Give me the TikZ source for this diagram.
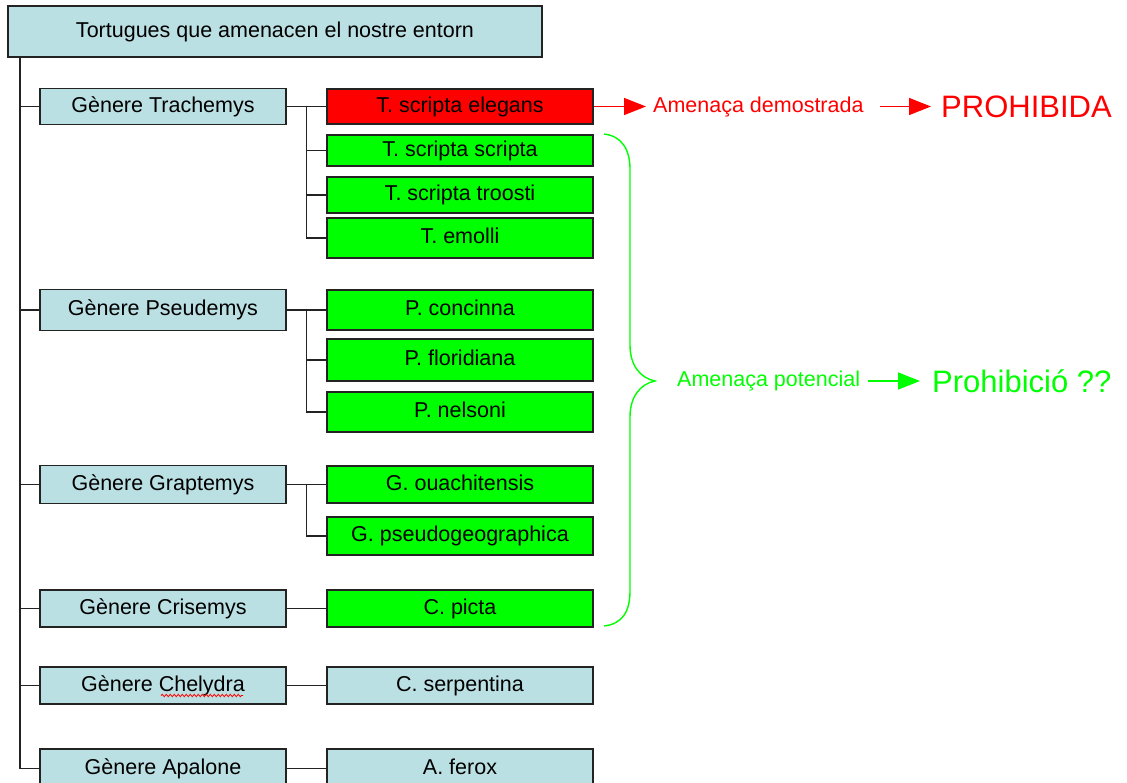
\documentclass[tikz,border=0pt]{standalone}
\usepackage{fontspec}
\setmainfont{Liberation Sans}
\usetikzlibrary{arrows.meta,decorations.pathmorphing,calc}
\definecolor{boxblue}{RGB}{187,224,227}
\definecolor{pgreen}{RGB}{0,255,0}
\definecolor{pred}{RGB}{255,0,0}
\definecolor{lineg}{RGB}{35,35,35}
\tikzset{
  base/.style={draw=lineg, line width=1.7pt, rectangle, inner sep=0pt, align=center,
    text height=15pt, text depth=4pt, font=\fontsize{21.5}{24}\selectfont},
  genus/.style={base, fill=boxblue, minimum width=246pt},
  sp/.style={base, fill=pgreen, minimum width=266pt},
  spred/.style={base, fill=pred, minimum width=266pt},
  spblue/.style={base, fill=boxblue, minimum width=266pt},
  conn/.style={draw=lineg, line width=1.7pt},
  lbl/.style={inner sep=0pt, anchor=west, font=\fontsize{21.5}{24}\selectfont},
  big/.style={inner sep=0pt, anchor=west, font=\fontsize{31}{36}\selectfont},
  redarrow/.style={draw=pred, line width=1.5pt, -{Triangle[length=22pt,width=17pt]}},
  greenarrow/.style={draw=pgreen, line width=1.5pt, -{Triangle[length=22pt,width=17pt]}},
}
\begin{document}
\begin{tikzpicture}[x=1pt,y=-1pt]
\useasboundingbox (0,0) rectangle (1127,782);
\clip (0,0) rectangle (1127,782);
\fill[white] (0,0) rectangle (1127,782);

% title
\node[base, fill=boxblue, minimum width=534pt, minimum height=51pt] (title) at (275,31.5) {Tortugues que amenacen el nostre entorn};

% genera
\node[genus, minimum height=36pt] (gT) at (163,106.5) {Gènere Trachemys};
\node[genus, minimum height=41pt] (gP) at (163,310) {Gènere Pseudemys};
\node[genus, minimum height=38pt] (gG) at (163,484.5) {Gènere Graptemys};
\node[genus, minimum height=37pt] (gC) at (163,608.5) {Gènere Crisemys};
\node[genus, minimum height=37pt] (gH) at (163,685.5) {Gènere Chelydra};
\node[genus, minimum height=39pt] (gA) at (163,768.5) {Gènere Apalone};

% species
\node[spred, minimum height=35pt] (sTe) at (460,106.5) {T. scripta elegans};
\node[sp, minimum height=31pt] (sTs) at (460,150.5) {T. scripta scripta};
\node[sp, minimum height=36pt] (sTt) at (460,195) {T. scripta troosti};
\node[sp, minimum height=40pt] (sTm) at (460,238) {T. emolli};
\node[sp, minimum height=40pt] (sPc) at (460,310) {P. concinna};
\node[sp, minimum height=42pt] (sPf) at (460,360) {P. floridiana};
\node[sp, minimum height=40pt] (sPn) at (460,412) {P. nelsoni};
\node[sp, minimum height=37pt] (sGo) at (460,484.5) {G. ouachitensis};
\node[sp, minimum height=38pt] (sGp) at (460,536) {G. pseudogeographica};
\node[sp, minimum height=37pt] (sCp) at (460,608.5) {C. picta};
\node[spblue, minimum height=37pt] (sCs) at (460,685.5) {C. serpentina};
\node[spblue, minimum height=39pt] (sAf) at (460,768.5) {A. ferox};

% trunk
\coordinate (trunk) at ([xshift=12.5pt]title.south west);
\foreach \g in {gT,gP,gG,gC,gH,gA} {\draw[conn] (trunk) |- (\g.west);}

% Trachemys bus
\draw[conn] (gT.east) -- (sTe.west);
\coordinate (bT) at ($(gT.east)!0.5!(sTe.west)$);
\foreach \s in {sTs,sTt,sTm} {\draw[conn] (bT) |- (\s.west);}
% Pseudemys bus
\draw[conn] (gP.east) -- (sPc.west);
\coordinate (bP) at ($(gP.east)!0.5!(sPc.west)$);
\foreach \s in {sPf,sPn} {\draw[conn] (bP) |- (\s.west);}
% Graptemys bus
\draw[conn] (gG.east) -- (sGo.west);
\coordinate (bG) at ($(gG.east)!0.5!(sGo.west)$);
\draw[conn] (bG) |- (sGp.west);
% single
\draw[conn] (gC.east) -- (sCp.west);
\draw[conn] (gH.east) -- (sCs.west);
\draw[conn] (gA.east) -- (sAf.west);

% spell-check underline
\draw[pred, line width=0.8pt, decorate, decoration={snake, amplitude=1.2pt, segment length=4pt}] (161,695.5) -- (243,695.5);

% red branch
\node[lbl, text=pred] (amD) at (653,106.5) {Amenaça demostrada};
\node[big, text=pred] (proh) at (941,106.5) {PROHIBIDA};
\draw[redarrow] (sTe.east) -- ([xshift=-7pt]amD.west);
\draw[redarrow] ([xshift=16pt]amD.east) -- ([xshift=-10pt]proh.west);

% green brace
\coordinate (brT) at (604,134);
\coordinate (brM) at (655,381);
\coordinate (brB) at (604,626);
\draw[pgreen, line width=1.4pt] (brT) .. controls (622,136) and (630,150) .. (630,169) -- (630,345)
  .. controls (630,365) and (640,378) .. (brM) .. controls (640,384) and (630,397) .. (630,417)
  -- (630,591) .. controls (630,612) and (622,624) .. (brB);

\node[lbl, text=pgreen] (amP) at (677,381) {Amenaça potencial};
\node[big, text=pgreen] (proP) at (932,381) {Prohibició ??};
\draw[greenarrow] ([xshift=8pt]amP.east) -- ([xshift=-12pt]proP.west);
\end{tikzpicture}
\end{document}
